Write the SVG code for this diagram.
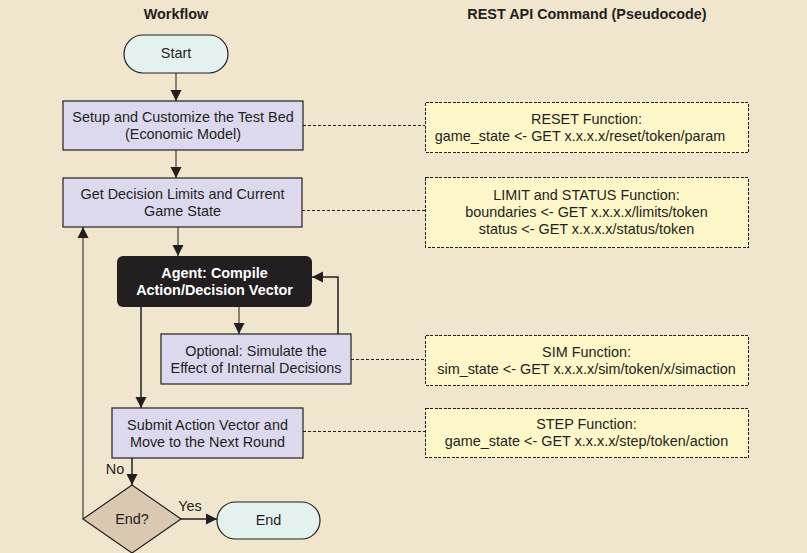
<svg xmlns="http://www.w3.org/2000/svg" width="807" height="553" viewBox="0 0 807 553">
<defs>
<marker id="ah" markerUnits="userSpaceOnUse" markerWidth="12" markerHeight="12" refX="11" refY="6" orient="auto">
<path d="M0,0.5 L11,6 L0,11.5 Z" fill="#231f20"/>
</marker>
<style>
text{font-family:"Liberation Sans",Arial,sans-serif;font-size:14.4px;fill:#231f20;text-anchor:middle}
.title{font-weight:bold}
.wt{fill:#ffffff;font-weight:bold}
.box{fill:#dcd8ee;stroke:#231f20;stroke-width:1.2}
.term{fill:#e3f2ee;stroke:#231f20;stroke-width:1.2}
.api{fill:#fdf6c8;stroke:#231f20;stroke-width:1;stroke-dasharray:3 1.5;shape-rendering:crispEdges}
.g{stroke:#8a8174;stroke-width:2;fill:none}
.d{stroke:#231f20;stroke-width:1.5;fill:none}
.dash{stroke:#231f20;stroke-width:1;stroke-dasharray:3 2;fill:none;shape-rendering:crispEdges}
</style>
</defs>
<rect x="0" y="0" width="807" height="553" fill="#f0e5cd"/>
<text class="title" x="176" y="19">Workflow</text>
<text class="title" x="587" y="19">REST API Command (Pseudocode)</text>

<g id="connectors">
<line class="g" x1="176" y1="73" x2="176" y2="101" marker-end="url(#ah)"/>
<line class="g" x1="176" y1="150" x2="176" y2="178" marker-end="url(#ah)"/>
<line class="g" x1="178" y1="227" x2="178" y2="256" marker-end="url(#ah)"/>
<line class="g" x1="239" y1="307" x2="239" y2="334" marker-end="url(#ah)"/>
<line class="d" x1="141" y1="307" x2="141" y2="408" marker-end="url(#ah)"/>
<polyline class="d" points="338,334 338,277 312,277" marker-end="url(#ah)"/>
<line class="d" x1="132" y1="458" x2="132" y2="485" marker-end="url(#ah)"/>
<line class="d" x1="181" y1="519" x2="217" y2="519" marker-end="url(#ah)"/>
<polyline class="g" points="83,519 83,227" marker-end="url(#ah)"/>
<line class="dash" x1="303" y1="125.5" x2="425" y2="125.5"/>
<line class="dash" x1="302" y1="210.5" x2="425" y2="210.5"/>
<line class="dash" x1="351" y1="359.5" x2="425" y2="359.5"/>
<line class="dash" x1="303" y1="431.5" x2="425" y2="431.5"/>
<text x="115" y="474">No</text>
<text x="190" y="511">Yes</text>
</g>

<g id="start">
<rect class="term" x="124" y="35" width="104" height="38" rx="19"/>
<text x="176" y="58">Start</text>
</g>
<g id="setup">
<rect class="box" x="63" y="101" width="240" height="49"/>
<text x="183" y="122">Setup and Customize the Test Bed</text>
<text x="183" y="139">(Economic Model)</text>
</g>
<g id="limits">
<rect class="box" x="63" y="178" width="239" height="49"/>
<text x="182.5" y="199">Get Decision Limits and Current</text>
<text x="182.5" y="216">Game State</text>
</g>
<g id="agent">
<rect x="117" y="256" width="195" height="51" rx="6" fill="#231f20"/>
<text class="wt" x="214.5" y="278">Agent: Compile</text>
<text class="wt" x="214.5" y="295">Action/Decision Vector</text>
</g>
<g id="optional">
<rect class="box" x="161" y="334" width="190" height="50"/>
<text x="256" y="355.5">Optional: Simulate the</text>
<text x="256" y="372.5">Effect of Internal Decisions</text>
</g>
<g id="submit">
<rect class="box" x="112" y="408" width="191" height="50"/>
<text x="207.5" y="429.5">Submit Action Vector and</text>
<text x="207.5" y="446.5">Move to the Next Round</text>
</g>
<g id="decision">
<polygon points="132,485 181,519 132,553 83,519" fill="#dbc8b0" stroke="#231f20" stroke-width="1.2"/>
<text x="132" y="524">End?</text>
</g>
<g id="end">
<rect class="term" x="217" y="502" width="103" height="37" rx="18.5"/>
<text x="268.5" y="525">End</text>
</g>
<g id="reset">
<rect class="api" x="425.5" y="102.5" width="323" height="50"/>
<text x="586.5" y="123.5">RESET Function:</text>
<text x="580" y="140.5">game_state &lt;- GET x.x.x.x/reset/token/param</text>
</g>
<g id="limitstatus">
<rect class="api" x="425.5" y="177.5" width="323" height="70"/>
<text x="586.5" y="200">LIMIT and STATUS Function:</text>
<text x="586.5" y="217">boundaries &lt;- GET x.x.x.x/limits/token</text>
<text x="586.5" y="234">status &lt;- GET x.x.x.x/status/token</text>
</g>
<g id="sim">
<rect class="api" x="425.5" y="335.5" width="323" height="50"/>
<text x="586.5" y="356.5">SIM Function:</text>
<text x="586.5" y="373.5">sim_state &lt;- GET x.x.x.x/sim/token/x/simaction</text>
</g>
<g id="step">
<rect class="api" x="425.5" y="408.5" width="323" height="49"/>
<text x="586.5" y="429">STEP Function:</text>
<text x="586.5" y="446">game_state &lt;- GET x.x.x.x/step/token/action</text>
</g>
</svg>
